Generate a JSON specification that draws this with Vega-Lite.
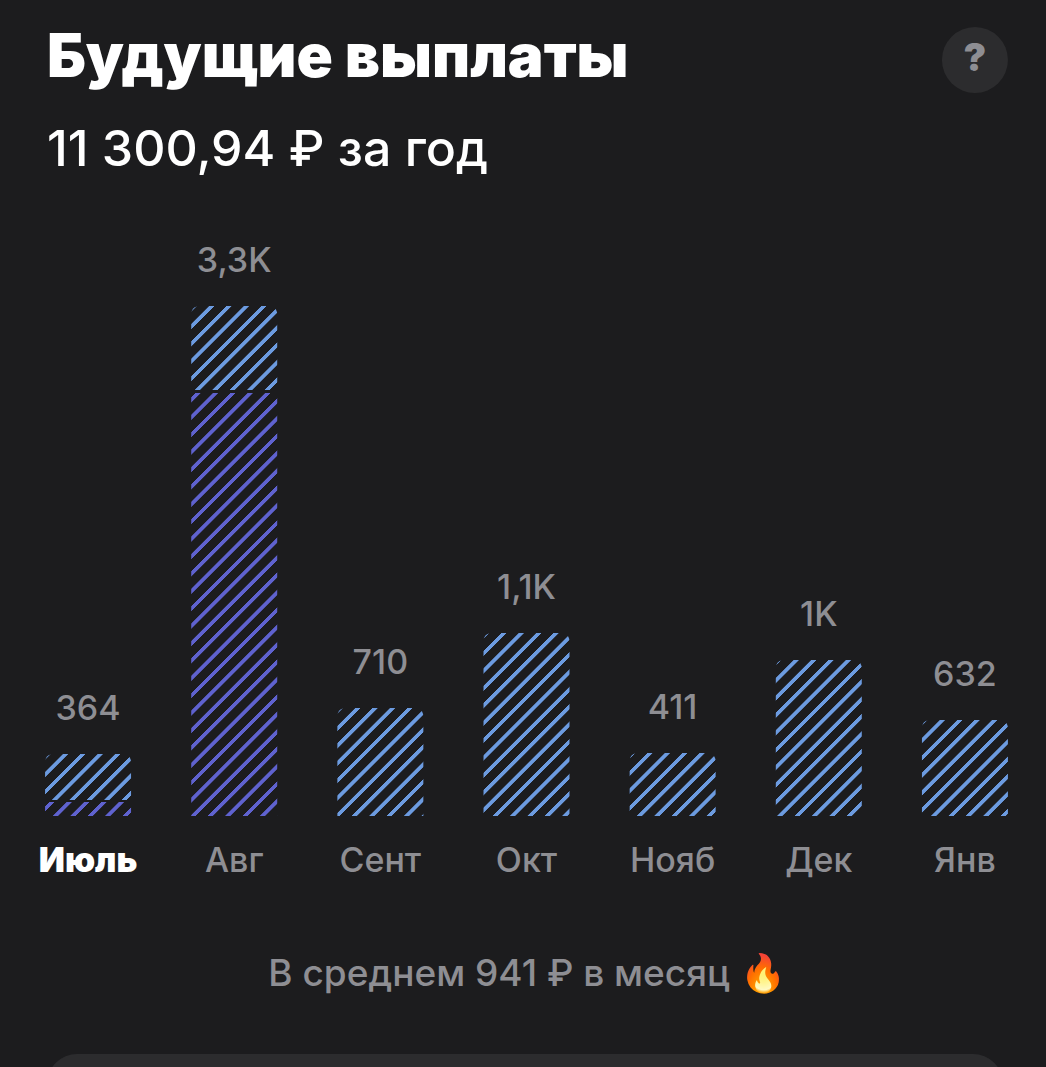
{
"$schema":"https://vega.github.io/schema/vega-lite/v6.json",
"width":1023,"height":510,
"autosize":{"type":"none"},
"padding":{"left":15,"right":8,"top":306,"bottom":251},
"background":"#1c1c1e",
"title":{"text":"Будущие выплаты","subtitle":"11 300,94 ₽ за год","anchor":"start","frame":"group","dx":32,"offset":-150,"font":"Inter","fontSize":60,"fontWeight":900,"color":"#ffffff","subtitleFont":"Inter","subtitleFontSize":50,"subtitleFontWeight":500,"subtitleColor":"#ffffff","subtitlePadding":36},
"params":[
{"name":"blue","value":[
{"offset":0.0001,"color":"#1c1c1e"},{"offset":0.0005,"color":"#6c9be0"},{"offset":0.0031,"color":"#6c9be0"},{"offset":0.0035,"color":"#1c1c1e"},
{"offset":0.0101,"color":"#1c1c1e"},{"offset":0.0105,"color":"#6c9be0"},{"offset":0.0131,"color":"#6c9be0"},{"offset":0.0135,"color":"#1c1c1e"},
{"offset":0.0201,"color":"#1c1c1e"},{"offset":0.0205,"color":"#6c9be0"},{"offset":0.0231,"color":"#6c9be0"},{"offset":0.0235,"color":"#1c1c1e"},
{"offset":0.0301,"color":"#1c1c1e"},{"offset":0.0305,"color":"#6c9be0"},{"offset":0.0331,"color":"#6c9be0"},{"offset":0.0335,"color":"#1c1c1e"},
{"offset":0.0401,"color":"#1c1c1e"},{"offset":0.0405,"color":"#6c9be0"},{"offset":0.0431,"color":"#6c9be0"},{"offset":0.0435,"color":"#1c1c1e"},
{"offset":0.0501,"color":"#1c1c1e"},{"offset":0.0505,"color":"#6c9be0"},{"offset":0.0531,"color":"#6c9be0"},{"offset":0.0535,"color":"#1c1c1e"},
{"offset":0.0601,"color":"#1c1c1e"},{"offset":0.0605,"color":"#6c9be0"},{"offset":0.0631,"color":"#6c9be0"},{"offset":0.0635,"color":"#1c1c1e"},
{"offset":0.0701,"color":"#1c1c1e"},{"offset":0.0705,"color":"#6c9be0"},{"offset":0.0731,"color":"#6c9be0"},{"offset":0.0735,"color":"#1c1c1e"},
{"offset":0.0801,"color":"#1c1c1e"},{"offset":0.0805,"color":"#6c9be0"},{"offset":0.0831,"color":"#6c9be0"},{"offset":0.0835,"color":"#1c1c1e"},
{"offset":0.0901,"color":"#1c1c1e"},{"offset":0.0905,"color":"#6c9be0"},{"offset":0.0931,"color":"#6c9be0"},{"offset":0.0935,"color":"#1c1c1e"},
{"offset":0.1001,"color":"#1c1c1e"},{"offset":0.1005,"color":"#6c9be0"},{"offset":0.1031,"color":"#6c9be0"},{"offset":0.1035,"color":"#1c1c1e"},
{"offset":0.1101,"color":"#1c1c1e"},{"offset":0.1105,"color":"#6c9be0"},{"offset":0.1131,"color":"#6c9be0"},{"offset":0.1135,"color":"#1c1c1e"},
{"offset":0.1201,"color":"#1c1c1e"},{"offset":0.1205,"color":"#6c9be0"},{"offset":0.1231,"color":"#6c9be0"},{"offset":0.1235,"color":"#1c1c1e"},
{"offset":0.1301,"color":"#1c1c1e"},{"offset":0.1305,"color":"#6c9be0"},{"offset":0.1331,"color":"#6c9be0"},{"offset":0.1335,"color":"#1c1c1e"},
{"offset":0.1401,"color":"#1c1c1e"},{"offset":0.1405,"color":"#6c9be0"},{"offset":0.1431,"color":"#6c9be0"},{"offset":0.1435,"color":"#1c1c1e"},
{"offset":0.1501,"color":"#1c1c1e"},{"offset":0.1505,"color":"#6c9be0"},{"offset":0.1531,"color":"#6c9be0"},{"offset":0.1535,"color":"#1c1c1e"}
]},
{"name":"purple","value":[
{"offset":0.0023,"color":"#1c1c1e"},{"offset":0.0027,"color":"#5f62cf"},{"offset":0.0053,"color":"#5f62cf"},{"offset":0.0057,"color":"#1c1c1e"},
{"offset":0.0123,"color":"#1c1c1e"},{"offset":0.0127,"color":"#5f62cf"},{"offset":0.0153,"color":"#5f62cf"},{"offset":0.0157,"color":"#1c1c1e"},
{"offset":0.0223,"color":"#1c1c1e"},{"offset":0.0227,"color":"#5f62cf"},{"offset":0.0253,"color":"#5f62cf"},{"offset":0.0257,"color":"#1c1c1e"},
{"offset":0.0323,"color":"#1c1c1e"},{"offset":0.0327,"color":"#5f62cf"},{"offset":0.0353,"color":"#5f62cf"},{"offset":0.0357,"color":"#1c1c1e"},
{"offset":0.0423,"color":"#1c1c1e"},{"offset":0.0427,"color":"#5f62cf"},{"offset":0.0453,"color":"#5f62cf"},{"offset":0.0457,"color":"#1c1c1e"},
{"offset":0.0523,"color":"#1c1c1e"},{"offset":0.0527,"color":"#5f62cf"},{"offset":0.0553,"color":"#5f62cf"},{"offset":0.0557,"color":"#1c1c1e"},
{"offset":0.0623,"color":"#1c1c1e"},{"offset":0.0627,"color":"#5f62cf"},{"offset":0.0653,"color":"#5f62cf"},{"offset":0.0657,"color":"#1c1c1e"},
{"offset":0.0723,"color":"#1c1c1e"},{"offset":0.0727,"color":"#5f62cf"},{"offset":0.0753,"color":"#5f62cf"},{"offset":0.0757,"color":"#1c1c1e"},
{"offset":0.0823,"color":"#1c1c1e"},{"offset":0.0827,"color":"#5f62cf"},{"offset":0.0853,"color":"#5f62cf"},{"offset":0.0857,"color":"#1c1c1e"},
{"offset":0.0923,"color":"#1c1c1e"},{"offset":0.0927,"color":"#5f62cf"},{"offset":0.0953,"color":"#5f62cf"},{"offset":0.0957,"color":"#1c1c1e"},
{"offset":0.1023,"color":"#1c1c1e"},{"offset":0.1027,"color":"#5f62cf"},{"offset":0.1053,"color":"#5f62cf"},{"offset":0.1057,"color":"#1c1c1e"},
{"offset":0.1123,"color":"#1c1c1e"},{"offset":0.1127,"color":"#5f62cf"},{"offset":0.1153,"color":"#5f62cf"},{"offset":0.1157,"color":"#1c1c1e"},
{"offset":0.1223,"color":"#1c1c1e"},{"offset":0.1227,"color":"#5f62cf"},{"offset":0.1253,"color":"#5f62cf"},{"offset":0.1257,"color":"#1c1c1e"},
{"offset":0.1323,"color":"#1c1c1e"},{"offset":0.1327,"color":"#5f62cf"},{"offset":0.1353,"color":"#5f62cf"},{"offset":0.1357,"color":"#1c1c1e"},
{"offset":0.1423,"color":"#1c1c1e"},{"offset":0.1427,"color":"#5f62cf"},{"offset":0.1453,"color":"#5f62cf"},{"offset":0.1457,"color":"#1c1c1e"},
{"offset":0.1523,"color":"#1c1c1e"},{"offset":0.1527,"color":"#5f62cf"},{"offset":0.1553,"color":"#5f62cf"},{"offset":0.1557,"color":"#1c1c1e"},
{"offset":0.1623,"color":"#1c1c1e"},{"offset":0.1627,"color":"#5f62cf"},{"offset":0.1653,"color":"#5f62cf"},{"offset":0.1657,"color":"#1c1c1e"},
{"offset":0.1723,"color":"#1c1c1e"},{"offset":0.1727,"color":"#5f62cf"},{"offset":0.1753,"color":"#5f62cf"},{"offset":0.1757,"color":"#1c1c1e"},
{"offset":0.1823,"color":"#1c1c1e"},{"offset":0.1827,"color":"#5f62cf"},{"offset":0.1853,"color":"#5f62cf"},{"offset":0.1857,"color":"#1c1c1e"},
{"offset":0.1923,"color":"#1c1c1e"},{"offset":0.1927,"color":"#5f62cf"},{"offset":0.1953,"color":"#5f62cf"},{"offset":0.1957,"color":"#1c1c1e"},
{"offset":0.2023,"color":"#1c1c1e"},{"offset":0.2027,"color":"#5f62cf"},{"offset":0.2053,"color":"#5f62cf"},{"offset":0.2057,"color":"#1c1c1e"},
{"offset":0.2123,"color":"#1c1c1e"},{"offset":0.2127,"color":"#5f62cf"},{"offset":0.2153,"color":"#5f62cf"},{"offset":0.2157,"color":"#1c1c1e"},
{"offset":0.2223,"color":"#1c1c1e"},{"offset":0.2227,"color":"#5f62cf"},{"offset":0.2253,"color":"#5f62cf"},{"offset":0.2257,"color":"#1c1c1e"},
{"offset":0.2323,"color":"#1c1c1e"},{"offset":0.2327,"color":"#5f62cf"},{"offset":0.2353,"color":"#5f62cf"},{"offset":0.2357,"color":"#1c1c1e"},
{"offset":0.2423,"color":"#1c1c1e"},{"offset":0.2427,"color":"#5f62cf"},{"offset":0.2453,"color":"#5f62cf"},{"offset":0.2457,"color":"#1c1c1e"},
{"offset":0.2523,"color":"#1c1c1e"},{"offset":0.2527,"color":"#5f62cf"},{"offset":0.2553,"color":"#5f62cf"},{"offset":0.2557,"color":"#1c1c1e"},
{"offset":0.2623,"color":"#1c1c1e"},{"offset":0.2627,"color":"#5f62cf"},{"offset":0.2653,"color":"#5f62cf"},{"offset":0.2657,"color":"#1c1c1e"},
{"offset":0.2723,"color":"#1c1c1e"},{"offset":0.2727,"color":"#5f62cf"},{"offset":0.2753,"color":"#5f62cf"},{"offset":0.2757,"color":"#1c1c1e"},
{"offset":0.2823,"color":"#1c1c1e"},{"offset":0.2827,"color":"#5f62cf"},{"offset":0.2853,"color":"#5f62cf"},{"offset":0.2857,"color":"#1c1c1e"},
{"offset":0.2923,"color":"#1c1c1e"},{"offset":0.2927,"color":"#5f62cf"},{"offset":0.2953,"color":"#5f62cf"},{"offset":0.2957,"color":"#1c1c1e"}
]}
],
"data":{"values":[
{"month":"Июль","kind":"paid","base":0,"top":91,"label":""},
{"month":"Июль","kind":"forecast","base":104,"top":401,"label":"364"},
{"month":"Авг","kind":"paid","base":0,"top":2737,"label":""},
{"month":"Авг","kind":"forecast","base":2757,"top":3300,"label":"3,3K"},
{"month":"Сент","kind":"forecast","base":0,"top":699,"label":"710"},
{"month":"Окт","kind":"forecast","base":0,"top":1184,"label":"1,1K"},
{"month":"Нояб","kind":"forecast","base":0,"top":408,"label":"411"},
{"month":"Дек","kind":"forecast","base":0,"top":1009,"label":"1K"},
{"month":"Янв","kind":"forecast","base":0,"top":621,"label":"632"}
]},
"encoding":{
"x":{"field":"month","type":"nominal","sort":null,
"scale":{"domain":["Июль","Авг","Сент","Окт","Нояб","Дек","Янв"],"paddingInner":0.4117,"paddingOuter":0.2058},
"axis":{"title":"В среднем 941 ₽ в месяц 🔥","titleFont":"Inter","titleFontSize":37,"titleFontWeight":500,"titleColor":"#8e8e93","titlePadding":78,"labelAngle":0,"labelFont":"Inter","labelFontSize":34,"labelFontWeight":{"condition":{"test":"datum.value==='Июль'","value":900},"value":500},"labelColor":{"condition":{"test":"datum.value==='Июль'","value":"#ffffff"},"value":"#8e8e93"},"labelBaseline":"middle","labelPadding":45,"domain":false,"ticks":false,"grid":false}},
"y":{"field":"top","type":"quantitative","scale":{"domain":[0,3300],"nice":false},"axis":null}
},
"layer":[
{"mark":{"type":"bar","clip":false,"cornerRadiusTopLeft":{"expr":"datum.kind==='forecast'?8:0"},"cornerRadiusTopRight":{"expr":"datum.kind==='forecast'?8:0"},
"fill":{"expr":"{gradient:'linear',x1:0,y1:0,x2:86*1740/(7396+pow((datum.top-datum.base)*0.15454,2)),y2:(datum.top-datum.base)*0.15454*1740/(7396+pow((datum.top-datum.base)*0.15454,2)),stops:datum.kind==='paid'?purple:blue}"}},
"encoding":{"y2":{"field":"base"}}},
{"transform":[{"filter":"datum.kind==='forecast'"}],
"mark":{"type":"text","font":"Inter","fontSize":34,"fontWeight":500,"color":"#8e8e93","baseline":"middle","dy":-44},
"encoding":{"text":{"field":"label"}}},
{"data":{"values":[{"month":"Янв","top":4892}]},
"mark":{"type":"point","shape":"circle","filled":true,"clip":false,"size":4356,"color":"#2c2c2e","opacity":1,"xOffset":10}},
{"data":{"values":[{"month":"Янв","top":4892,"label":"?"}]},
"mark":{"type":"text","font":"Inter","fontSize":38,"fontWeight":900,"color":"#8e8e93","baseline":"middle","dx":10},
"encoding":{"text":{"field":"label"}}},
{"data":{"values":[{"month":"Июль","monthEnd":"Янв","top":-1734}]},
"mark":{"type":"rule","clip":false,"stroke":"#2c2c2e","strokeWidth":60,"strokeCap":"round","xOffset":-11,"x2Offset":8},
"encoding":{"x2":{"field":"monthEnd"}}}
],
"config":{"view":{"stroke":null}}
}
